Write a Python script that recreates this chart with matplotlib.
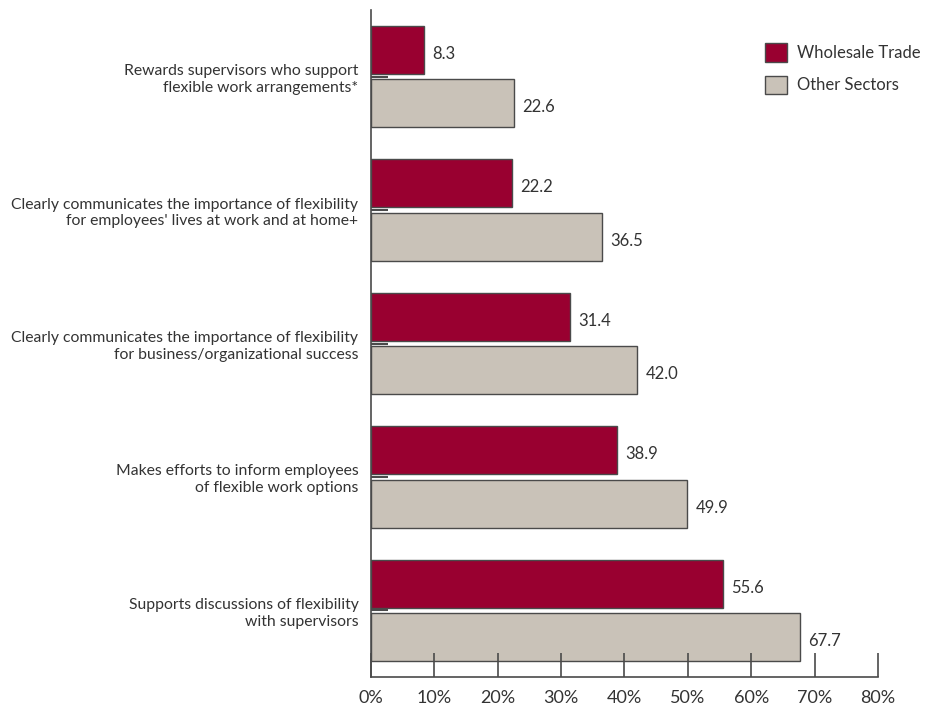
import matplotlib
matplotlib.use("Agg")
import matplotlib.pyplot as plt
from matplotlib.patches import Patch

# data
categories = [
    "Rewards supervisors who support\nflexible work arrangements*",
    "Clearly communicates the importance of flexibility\nfor employees' lives at work and at home+",
    "Clearly communicates the importance of flexibility\nfor business/organizational success",
    "Makes efforts to inform employees\nof flexible work options",
    "Supports discussions of flexibility\nwith supervisors",
]
wholesale = [8.3, 22.2, 31.4, 38.9, 55.6]
other = [22.6, 36.5, 42.0, 49.9, 67.7]
series_names = ["Wholesale Trade", "Other Sectors"]
xticks = [0, 10, 20, 30, 40, 50, 60, 70, 80]

red = "#990030"
grey = "#C9C2B8"
edge = "#4a4a4a"
txt = "#333333"

plt.rcParams['font.family'] = ['Lato', 'DejaVu Sans']

fig = plt.figure(figsize=(9.39, 7.09), dpi=100)
ax = fig.add_axes([0.395, 0.045, 0.54, 0.941])

pos = list(range(len(categories)))
h = 0.36
off = 0.2
ax.barh([p - off for p in pos], wholesale, height=h, color=red, edgecolor=edge, linewidth=1)
ax.barh([p + off for p in pos], other, height=h, color=grey, edgecolor=edge, linewidth=1)

for p, v in zip(pos, wholesale):
    ax.text(v + 1.3, p - off + 0.03, "%.1f" % v, va="center", ha="left", fontsize=12, color=txt)
for p, v in zip(pos, other):
    ax.text(v + 1.3, p + off + 0.03, "%.1f" % v, va="center", ha="left", fontsize=12, color=txt)

ax.set_ylim(4.5, -0.5)
ax.set_xlim(0, 80)
ax.set_yticks(pos)
ax.set_yticklabels(categories, fontsize=11.3, color=txt, linespacing=1.25)
ax.set_xticks(xticks)
ax.set_xticklabels(["%d%%" % t for t in xticks], fontsize=13, color=txt)

ax.tick_params(axis="x", direction="in", length=17, width=1.2, color=edge, pad=9)
ax.tick_params(axis="y", direction="in", length=12, width=1.5, color=edge, pad=9)
for s in ["top", "right"]:
    ax.spines[s].set_visible(False)
for s in ["left", "bottom"]:
    ax.spines[s].set_color(edge)
    ax.spines[s].set_linewidth(1.2)

handles = [Patch(facecolor=red, edgecolor=edge), Patch(facecolor=grey, edgecolor=edge)]
fig.legend(handles, series_names, loc="upper left", bbox_to_anchor=(0.799, 0.96),
           frameon=False, fontsize=12, handlelength=1.3, handleheight=1.3,
           handletextpad=0.6, labelspacing=0.85, labelcolor=txt)

fig.savefig("out.png", dpi=100)
